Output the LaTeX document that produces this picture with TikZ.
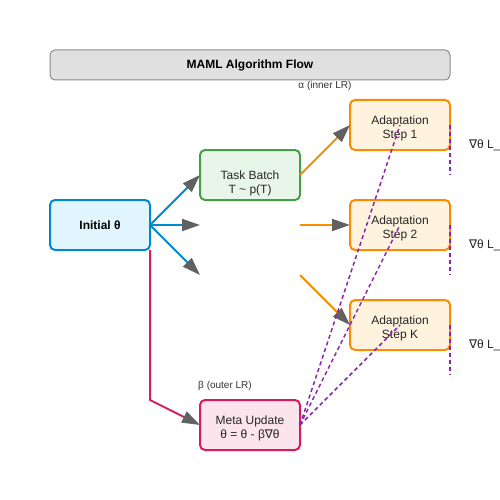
\documentclass[tikz,border=0pt]{standalone}
\usepackage{fontspec}
\setmainfont{Liberation Sans}
\newfontfamily\symfont{DejaVu Sans}
\usetikzlibrary{arrows.meta}
\definecolor{cblue}{HTML}{0288D1}
\definecolor{cgreen}{HTML}{43A047}
\definecolor{corange}{HTML}{FB8C00}
\definecolor{cred}{HTML}{D81B60}
\definecolor{cpurple}{HTML}{8E24AA}
\definecolor{fblue}{HTML}{E1F5FE}
\definecolor{fgreen}{HTML}{E8F5E9}
\definecolor{forange}{HTML}{FFF3E0}
\definecolor{fred}{HTML}{FCE4EC}
\definecolor{ftitle}{HTML}{E0E0E0}
\definecolor{ctitle}{HTML}{8A8A8A}
\definecolor{tipgray}{HTML}{616161}
\newcommand{\nab}{{\symfont ∇}}
\tikzset{
  box/.style={draw, line width=2pt, rounded corners=5pt, minimum width=100pt, minimum height=50pt, inner sep=0pt, outer sep=0pt},
  txt/.style={align=center, font=\fontsize{12}{14}\selectfont, inner sep=0pt, text=black!85},
  small/.style={font=\fontsize{10}{12}\selectfont, inner sep=0pt, text=black!80},
  arr/.style={line width=2pt, -{Triangle[length=18pt,width=12pt,color=tipgray]}},
  dsh/.style={cpurple, line width=1.5pt, dash pattern=on 4pt off 3pt},
}
\begin{document}
\begin{tikzpicture}[x=1pt,y=-1pt]
\useasboundingbox (0,0) rectangle (500,500);
% title
\node[draw=ctitle, fill=ftitle, line width=1pt, rounded corners=5pt, minimum width=400pt, minimum height=30pt, inner sep=0pt, font=\bfseries\fontsize{12}{14}\selectfont] (title) at (250,65) {MAML Algorithm Flow};
\node[small] (alpha) at (325,86) {α (inner LR)};
\node[small] (beta) at (225,386) {β (outer LR)};
% boxes
\node[box, draw=cblue, fill=fblue, font=\bfseries\fontsize{12}{14}\selectfont] (init) at (100,225) {Initial θ};
\node[box, draw=cgreen, fill=fgreen] (task) at (250,175) {};
\node[txt] (tasktxt) at (250,183.5) {Task Batch\\T \textasciitilde{} p(T)};
\node[box, draw=corange, fill=forange] (s1) at (400,125) {};
\node[txt] (s1txt) at (400,128.5) {Adaptation\\Step 1};
\node[box, draw=corange, fill=forange] (s2) at (400,225) {};
\node[txt] (s2txt) at (400,228.5) {Adaptation\\Step 2};
\node[box, draw=corange, fill=forange] (sk) at (400,325) {};
\node[txt] (sktxt) at (400,328.5) {Adaptation\\Step K};
\node[box, draw=cred, fill=fred] (meta) at (250,425) {};
\node[txt] (metatxt) at (250,428.5) {Meta Update\\θ = θ - β\nab θ};
% helper coordinates
\coordinate (b2) at (200,225);
\coordinate (b3) at (200,275);
\coordinate (o2) at (300,225);
\coordinate (o3) at (300,275);
\coordinate (bend) at (150,400);
\coordinate (v1) at (450,175);
\coordinate (v2) at (450,275);
\coordinate (v3) at (450,375);
% blue arrows
\draw[arr, cblue] (init.east) -- (task.west);
\draw[arr, cblue] (init.east) -- (b2);
\draw[arr, cblue] (init.east) -- (b3);
% orange arrows
\draw[arr, corange] (task.east) -- (s1.west);
\draw[arr, corange] (o2) -- (s2.west);
\draw[arr, corange] (o3) -- (sk.west);
% red path
\draw[arr, cred] (init.south east) -- (bend) -- (meta.west);
% purple dashed
\draw[dsh] (meta.east) -- (s1.center);
\draw[dsh] (meta.east) -- (s2.center);
\draw[dsh] (meta.east) -- (sk.center);
\draw[dsh] (s1.east) -- (v1);
\draw[dsh] (s2.east) -- (v2);
\draw[dsh] (sk.east) -- (v3);
% gradient labels
\node[txt, anchor=west] (g1) at (469,145) {\nab θ L\_T};
\node[txt, anchor=west] (g2) at (469,245) {\nab θ L\_T};
\node[txt, anchor=west] (g3) at (469,345) {\nab θ L\_T};
\end{tikzpicture}
\end{document}
